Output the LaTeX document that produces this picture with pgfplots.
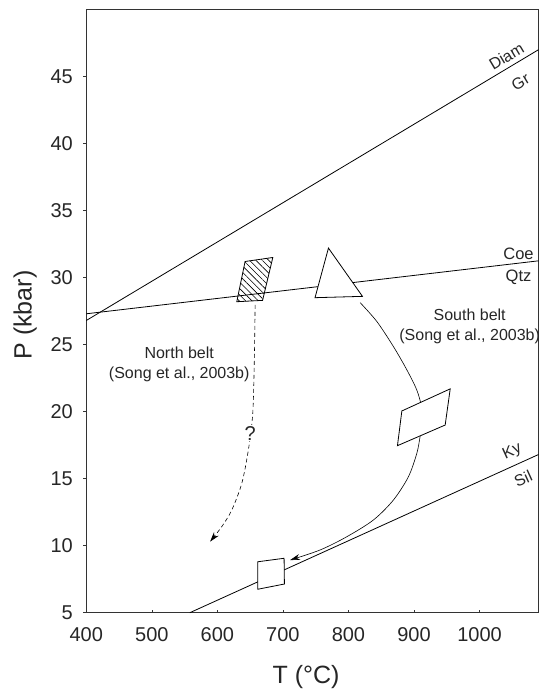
\documentclass[border=0pt]{standalone}
\usepackage{pgfplots}
\pgfplotsset{compat=1.18}
\usepackage{fontspec}
\setmainfont{Liberation Sans}
\usetikzlibrary{patterns.meta,arrows.meta}
\begin{document}
\begin{tikzpicture}
\path[use as bounding box] (-86.3bp,-85.3bp) rectangle (453.7bp,612.7bp);
\begin{axis}[
  at={(0,0)}, anchor=south west, scale only axis,
  width=452.2bp, height=603.2bp,
  xmin=400, xmax=1090, ymin=5, ymax=50,
  xtick={400,500,...,1000}, ytick={5,10,...,45},
  tick pos=left,
  xtick align=inside, ytick align=outside,
  major tick length=3bp,
  clip=false,
  axis line style={line width=0.8bp, black!80},
  tick style={line width=0.6bp, black!80},
  ticklabel style={font=\fontsize{20bp}{24bp}\selectfont, text=black!85},
  /pgf/number format/assume math mode=true,
  /pgf/number format/1000 sep={},
  xticklabel style={yshift=-11bp},
  yticklabel style={xshift=-7bp},
  xlabel={T (°C)}, ylabel={P (kbar)},
  label style={font=\fontsize{25bp}{30bp}\selectfont, text=black!85},
  xlabel style={at={(axis description cs:0.486,-0.1066)}, anchor=center},
  ylabel style={at={(axis description cs:-0.135,0.4935)}, anchor=center},
]
% reaction lines
\addplot[black, line width=0.8bp] coordinates {(400,26.8) (1090,47)};
\addplot[black, line width=0.8bp] coordinates {(400,27.3) (1090,31.25)};
\addplot[black, line width=0.8bp] coordinates {(558,5) (1090,16.8)};
% south belt path
\addplot[black, line width=0.6bp, smooth, -{Stealth[length=10bp,width=6bp]}] coordinates {
 (817.9,28.13) (843.4,26.72) (868.7,24.85) (889.2,23.11) (904.4,21.6) (912.1,20.25)
 (913,19.2) (909.5,18.19) (904.4,16.9) (891.6,15.15) (868.7,13.41) (838.2,11.92) (797.6,10.67) (756.8,9.68) (711,8.93)};
% north belt path (dashed)
\addplot[black, line width=0.6bp, smooth, dash pattern=on 4bp off 3bp, -{Stealth[length=10bp,width=6bp]}] coordinates {
 (657.6,27.96) (656.5,24.1) (654,19.88) (647.3,17.14) (637.3,14.66) (622,12.66) (606.7,11.42) (588.9,10.3)};
% hatched parallelogram
\addplot[black, line width=0.8bp, pattern={Lines[angle=-45,distance=4.5bp,line width=0.6bp]}] coordinates {
 (629.6,28.2) (669,28.3) (684.6,31.5) (642.3,31.2)} -- cycle;
% triangle
\addplot[black, line width=0.8bp, fill=white] coordinates {
 (749,28.5) (821.4,28.6) (769.5,32.2)} -- cycle;
% parallelogram
\addplot[black, line width=0.8bp, fill=white] coordinates {
 (874.8,17.46) (947.6,19.0) (955.3,21.7) (881.5,20.05)} -- cycle;
% square
\addplot[black, line width=0.8bp, fill=white] coordinates {
 (661.7,6.75) (702.3,7.14) (701.8,9.06) (661.7,8.8)} -- cycle;
% labels
\begin{scope}[every node/.style={font=\fontsize{16bp}{19bp}\selectfont, text=black!85, inner sep=0pt}]
\node[fill=white, inner sep=1bp, font=\fontsize{20bp}{24bp}\selectfont] at (axis cs:650,18.4) {?};
\node at (axis cs:541.8,24.4) {North belt};
\node at (axis cs:541.8,22.8) {(Song et al., 2003b)};
\node at (axis cs:985,27.2) {South belt};
\node at (axis cs:985,25.6) {(Song et al., 2003b)};
\node[rotate=30.7, font=\fontsize{16bp}{19bp}\selectfont] at (axis cs:1041,46.5) {Diam};
\node[rotate=30.7, font=\fontsize{16bp}{19bp}\selectfont] at (axis cs:1062.5,44.6) {Gr};
\node[font=\fontsize{16.5bp}{19bp}\selectfont] at (axis cs:1059.5,31.8) {Coe};
\node[font=\fontsize{16.5bp}{19bp}\selectfont] at (axis cs:1059.5,30.0) {Qtz};
\node[rotate=24.4, font=\fontsize{16bp}{19bp}\selectfont] at (axis cs:1050,17.0) {Ky};
\node[rotate=24.4, font=\fontsize{16bp}{19bp}\selectfont] at (axis cs:1066.5,15.0) {Sil};
\end{scope}
\end{axis}
\end{tikzpicture}
\end{document}
